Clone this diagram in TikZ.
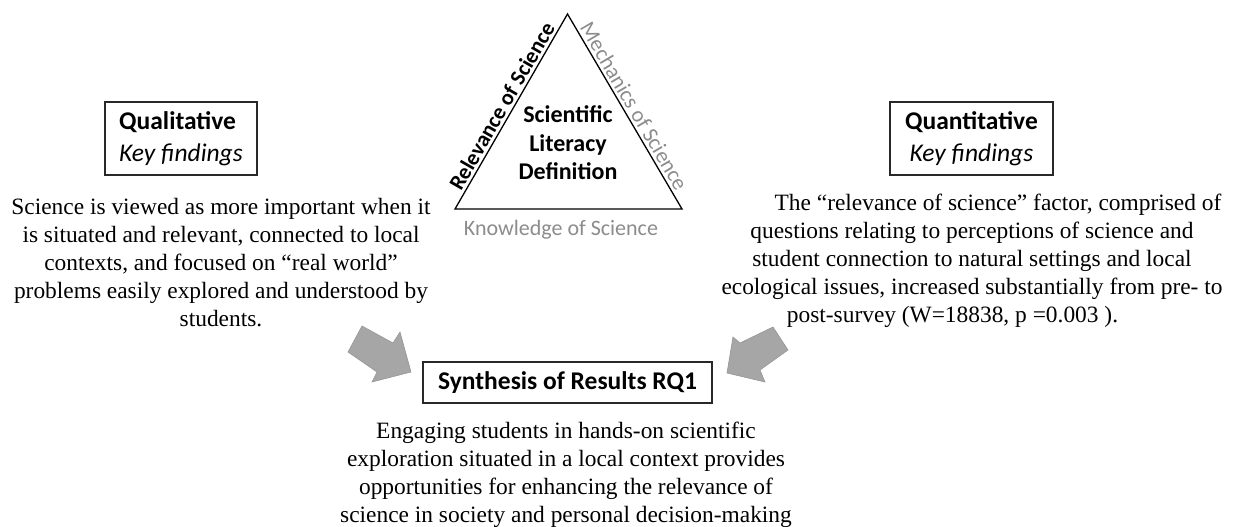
\documentclass[tikz,border=0pt]{standalone}
\usepackage{fontspec}
\setmainfont{Liberation Serif}
\newfontfamily\calfont{Carlito}
\definecolor{lblgray}{RGB}{140,140,140}
\definecolor{arrowgray}{RGB}{166,166,166}
\definecolor{arrowedge}{RGB}{150,150,150}
\definecolor{boxline}{RGB}{40,40,40}
\begin{document}
\begin{tikzpicture}[x=1pt,y=-1pt,
  para/.style={align=center, font=\fontsize{23.4}{28}\selectfont, inner sep=0pt},
  hbox/.style={draw=boxline, line width=1.3pt, inner sep=0pt},
  headfont/.style={font=\calfont\fontsize{25.5}{32}\selectfont},
  sidelbl/.style={font=\calfont\fontsize{22}{26}\selectfont, inner sep=3pt},
  blockarrow/.style={fill=arrowgray, draw=arrowedge, line width=0.6pt, line join=miter}
]
\useasboundingbox (0,0) rectangle (1240,527);

% Triangle
\coordinate (apex) at (567.5,14);
\coordinate (bl) at (455,209);
\coordinate (br) at (682,209);
\draw[line width=1.3pt, line join=miter] (bl) -- (apex) -- (br) -- cycle;
\path (bl) -- (apex) node[midway, above, sloped, sidelbl, font=\calfont\bfseries\fontsize{22}{26}\selectfont] (rel) {Relevance of Science};
\path (apex) -- (br) node[midway, above, sloped, sidelbl, text=lblgray] (mech) {Mechanics of Science};
\node[sidelbl, text=lblgray] (know) at (561,230) {Knowledge of Science};
\node[align=center, font=\calfont\bfseries\fontsize{24}{28.5}\selectfont, inner sep=0pt] (sld) at (568,143) {Scientific\\Literacy\\Definition};

% Qualitative box and text
\node[hbox, headfont, minimum width=152pt, minimum height=73pt, align=left] (qual) at (181,138.5) {\textbf{Qualitative}\\\textit{Key findings}};
\node[para] (qualtext) at (221,263) {Science is viewed as more important when it\\
is situated and relevant, connected to local\\
contexts, and focused on “real world”\\
problems easily explored and understood by\\
students.};

% Quantitative box and text
\node[hbox, headfont, minimum width=163pt, minimum height=73pt, align=center] (quan) at (971.5,138.5) {\textbf{Quantitative}\\\textit{Key findings}};
\node[para] (quantext) at (972,261) {\hspace*{52pt}The “relevance of science” factor, comprised of\\
questions relating to perceptions of science and\\
student connection to natural settings and local\\
ecological issues, increased substantially from pre- to\\
post-survey (W=18838, p =0.003 ).\hspace*{39pt}};

% Synthesis box and text
\node[hbox, headfont, minimum width=289pt, minimum height=41pt] (syn) at (567.5,382.5) {\textbf{Synthesis of Results RQ1}};
\node[para] (syntext) at (566,475) {Engaging students in hands-on scientific\\
exploration situated in a local context provides\\
opportunities for enhancing the relevance of\\
science in society and personal decision-making};

% Block arrows
\draw[blockarrow] (362,326) -- (393,343) -- (400,332) -- (411,372) -- (372,382) -- (377,372) -- (348,352) -- cycle;
\draw[blockarrow] (773,327) -- (788,350) -- (760,370) -- (765,382) -- (727,373) -- (733,337) -- (740,343) -- cycle;
\end{tikzpicture}
\end{document}
